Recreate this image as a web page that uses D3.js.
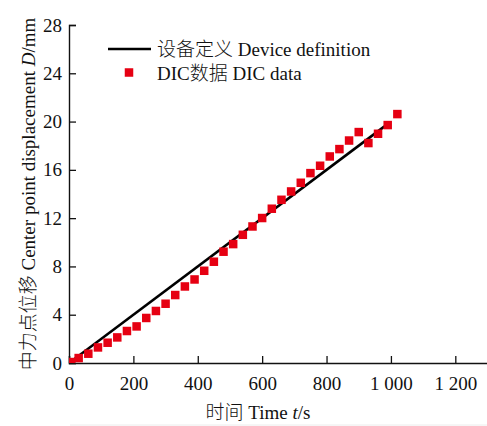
<!DOCTYPE html>
<html>
<head>
<meta charset="utf-8">
<script src="https://cdn.jsdelivr.net/npm/d3@7"></script>
<style>
  body { margin: 0; background: #fff; }
</style>
</head>
<body>
<svg id="chart" width="487" height="426"></svg>
<script>
// DIC measured points (time s, displacement mm)
const dicTime = [6, 30, 60, 90, 120, 150, 180, 210, 240, 270, 300, 330, 360, 390, 420, 450,
  480, 510, 540, 570, 600, 630, 660, 690, 720, 750, 780, 810, 840, 870, 900, 930, 960, 990, 1020];
const dicDisp = [0.08, 0.41, 0.77, 1.29, 1.68, 2.12, 2.65, 3.03, 3.73, 4.31, 4.91, 5.63, 6.34, 6.92,
  7.64, 8.39, 9.22, 9.85, 10.62, 11.31, 12.01, 12.78, 13.52, 14.21, 14.93, 15.73, 16.34, 17.11,
  17.72, 18.43, 19.13, 18.22, 18.99, 19.71, 20.62];
// device definition line
const lineTime = [0, 980];
const lineDisp = [0, 19.6];

const xTicks = [0, 200, 400, 600, 800, 1000, 1200];
const yTicks = [0, 4, 8, 12, 16, 20, 24, 28];

const FONT = '"Liberation Serif", "Noto Sans CJK SC", serif';
const svg = d3.select("#chart");
const plotL = 69, plotR = 487.5, plotT = 25, plotB = 363;

const x = d3.scaleLinear().domain([0, 1300]).range([plotL, plotR]);
const y = d3.scaleLinear().domain([0, 28]).range([plotB, plotT]);
const fmt = (d) => d >= 1000 ? d3.format(",")(d).replace(",", " ") : d;

svg.append("defs").append("clipPath").attr("id", "plot")
  .append("rect").attr("x", plotL).attr("y", plotT).attr("width", plotR - plotL).attr("height", plotB - plotT);

// axes, ticks pointing inward
const xAxis = d3.axisBottom(x).tickValues(xTicks).tickSize(-7).tickPadding(14).tickFormat(fmt);
const yAxis = d3.axisLeft(y).tickValues(yTicks).tickSize(-7).tickPadding(7);

const gx = svg.append("g").attr("transform", `translate(0,${plotB})`).call(xAxis);
const gy = svg.append("g").attr("transform", `translate(${plotL},0)`).call(yAxis);
[gx, gy].forEach((g) => {
  g.select(".domain").attr("stroke", "#111").attr("stroke-width", 1.4);
  g.selectAll(".tick line").attr("stroke", "#111").attr("stroke-width", 1.3);
  g.selectAll(".tick text").attr("font-size", 19)
    .style("font-family", FONT).attr("fill", "#111");
});
gx.selectAll(".tick text").attr("dy", "0.71em");

const plot = svg.append("g").attr("clip-path", "url(#plot)");

// device definition line
plot.append("path")
  .datum(lineTime.map((t, i) => [t, lineDisp[i]]))
  .attr("fill", "none").attr("stroke", "#000").attr("stroke-width", 2.6)
  .attr("d", d3.line().x((d) => x(d[0])).y((d) => y(d[1])));

// DIC squares
const sq = 8.5;
plot.selectAll("rect.dic")
  .data(dicTime.map((t, i) => [t, dicDisp[i]]))
  .join("rect")
  .attr("class", "dic")
  .attr("x", (d) => x(d[0]) - sq / 2)
  .attr("y", (d) => y(d[1]) - sq / 2)
  .attr("width", sq).attr("height", sq)
  .attr("fill", "#e60012");

function label(g, px, py) {
  return g.append("text").attr("x", px).attr("y", py)
    .style("font-family", FONT).style("font-weight", 300)
    .attr("font-size", 19).attr("fill", "#111");
}

// legend
const lg = svg.append("g");
lg.append("line").attr("x1", 108).attr("x2", 151).attr("y1", 49).attr("y2", 49)
  .attr("stroke", "#000").attr("stroke-width", 2.6);
label(lg, 157, 56).text("设备定义 Device definition");
lg.append("rect").attr("x", 129 - sq / 2).attr("y", 72.5 - sq / 2).attr("width", sq).attr("height", sq)
  .attr("fill", "#e60012");
label(lg, 157, 80).text("DIC数据 DIC data");

// axis titles
const xt = label(svg, 258, 419).attr("text-anchor", "middle");
xt.append("tspan").text("时间 Time ");
xt.append("tspan").attr("font-style", "italic").text("t");
xt.append("tspan").text("/s");

const yt = label(svg, 0, 0).attr("transform", "translate(35,194) rotate(-90)")
  .attr("text-anchor", "middle");
yt.append("tspan").text("中力点位移  Center point displacement ");
yt.append("tspan").attr("font-style", "italic").text("D");
yt.append("tspan").text("/mm");

// faint bottom edge line
svg.append("line").attr("x1", 70).attr("x2", 487).attr("y1", 425).attr("y2", 425)
  .attr("stroke", "#ececec").attr("stroke-width", 1);
</script>
</body>
</html>
